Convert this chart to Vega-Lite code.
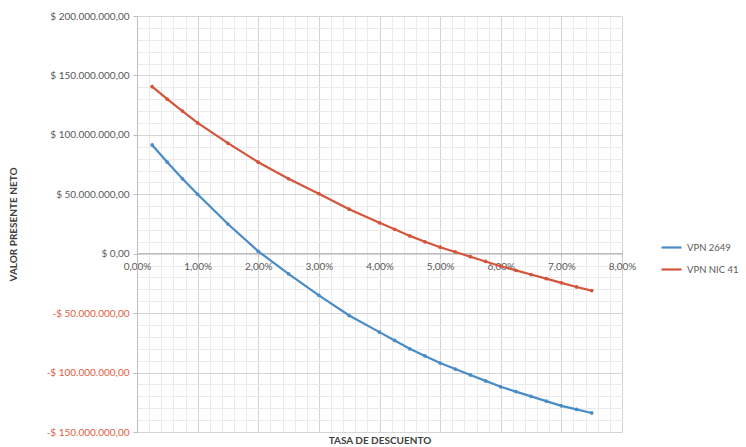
{
  "$schema": "https://vega.github.io/schema/vega-lite/v6.json",
  "width": 485,
  "height": 416,
  "autosize": {"type": "none"},
  "padding": {"left": 137, "top": 16, "right": 124, "bottom": 15},
  "background": "white",
  "config": {
    "locale": {"number": {"decimal": ",", "thousands": ".", "grouping": [3], "currency": ["$ ", ""], "minus": "-"}},
    "font": "Lato",
    "view": {"stroke": null},
    "axis": {"labelFont": "Lato", "titleFont": "Lato"}
  },
  "data": {
    "values": [
      {"tasa": 0.0025, "serie": "VPN 2649", "vpn": 91500000},
      {"tasa": 0.005, "serie": "VPN 2649", "vpn": 77000000},
      {"tasa": 0.0075, "serie": "VPN 2649", "vpn": 63000000},
      {"tasa": 0.01, "serie": "VPN 2649", "vpn": 50000000},
      {"tasa": 0.015, "serie": "VPN 2649", "vpn": 25000000},
      {"tasa": 0.02, "serie": "VPN 2649", "vpn": 2000000},
      {"tasa": 0.025, "serie": "VPN 2649", "vpn": -17000000},
      {"tasa": 0.03, "serie": "VPN 2649", "vpn": -35000000},
      {"tasa": 0.035, "serie": "VPN 2649", "vpn": -52000000},
      {"tasa": 0.04, "serie": "VPN 2649", "vpn": -66000000},
      {"tasa": 0.0425, "serie": "VPN 2649", "vpn": -73000000},
      {"tasa": 0.045, "serie": "VPN 2649", "vpn": -80000000},
      {"tasa": 0.0475, "serie": "VPN 2649", "vpn": -86000000},
      {"tasa": 0.05, "serie": "VPN 2649", "vpn": -92000000},
      {"tasa": 0.0525, "serie": "VPN 2649", "vpn": -97000000},
      {"tasa": 0.055, "serie": "VPN 2649", "vpn": -102000000},
      {"tasa": 0.0575, "serie": "VPN 2649", "vpn": -107000000},
      {"tasa": 0.06, "serie": "VPN 2649", "vpn": -112000000},
      {"tasa": 0.0625, "serie": "VPN 2649", "vpn": -116000000},
      {"tasa": 0.065, "serie": "VPN 2649", "vpn": -120000000},
      {"tasa": 0.0675, "serie": "VPN 2649", "vpn": -124000000},
      {"tasa": 0.07, "serie": "VPN 2649", "vpn": -128000000},
      {"tasa": 0.0725, "serie": "VPN 2649", "vpn": -131000000},
      {"tasa": 0.075, "serie": "VPN 2649", "vpn": -134000000},
      {"tasa": 0.0025, "serie": "VPN NIC 41", "vpn": 140500000},
      {"tasa": 0.005, "serie": "VPN NIC 41", "vpn": 130000000},
      {"tasa": 0.0075, "serie": "VPN NIC 41", "vpn": 120000000},
      {"tasa": 0.01, "serie": "VPN NIC 41", "vpn": 110000000},
      {"tasa": 0.015, "serie": "VPN NIC 41", "vpn": 93000000},
      {"tasa": 0.02, "serie": "VPN NIC 41", "vpn": 77000000},
      {"tasa": 0.025, "serie": "VPN NIC 41", "vpn": 63000000},
      {"tasa": 0.03, "serie": "VPN NIC 41", "vpn": 50500000},
      {"tasa": 0.035, "serie": "VPN NIC 41", "vpn": 37500000},
      {"tasa": 0.04, "serie": "VPN NIC 41", "vpn": 26000000},
      {"tasa": 0.0425, "serie": "VPN NIC 41", "vpn": 20500000},
      {"tasa": 0.045, "serie": "VPN NIC 41", "vpn": 15000000},
      {"tasa": 0.0475, "serie": "VPN NIC 41", "vpn": 10000000},
      {"tasa": 0.05, "serie": "VPN NIC 41", "vpn": 5500000},
      {"tasa": 0.0525, "serie": "VPN NIC 41", "vpn": 1500000},
      {"tasa": 0.055, "serie": "VPN NIC 41", "vpn": -2500000},
      {"tasa": 0.0575, "serie": "VPN NIC 41", "vpn": -6500000},
      {"tasa": 0.06, "serie": "VPN NIC 41", "vpn": -10500000},
      {"tasa": 0.0625, "serie": "VPN NIC 41", "vpn": -14000000},
      {"tasa": 0.065, "serie": "VPN NIC 41", "vpn": -17500000},
      {"tasa": 0.0675, "serie": "VPN NIC 41", "vpn": -21000000},
      {"tasa": 0.07, "serie": "VPN NIC 41", "vpn": -24500000},
      {"tasa": 0.0725, "serie": "VPN NIC 41", "vpn": -28000000},
      {"tasa": 0.075, "serie": "VPN NIC 41", "vpn": -31000000}
    ]
  },
  "resolve": {"axis": {"x": "independent", "y": "independent"}},
  "layer": [
    {
      "mark": {"type": "point", "opacity": 0},
      "encoding": {
        "x": {
          "field": "tasa", "type": "quantitative",
          "scale": {"domain": [0, 0.08], "nice": false, "zero": false},
          "axis": {
            "orient": "top", "title": null, "labels": false, "ticks": false, "domain": false,
            "grid": true, "gridColor": "#ebebeb", "gridWidth": 1,
            "values": [0.002,0.004,0.006,0.008,0.012,0.014,0.016,0.018,0.022,0.024,0.026,0.028,0.032,0.034,0.036,0.038,0.042,0.044,0.046,0.048,0.052,0.054,0.056,0.058,0.062,0.064,0.066,0.068,0.072,0.074,0.076,0.078]
          }
        },
        "y": {
          "field": "vpn", "type": "quantitative",
          "scale": {"domain": [-150000000, 200000000], "nice": false, "zero": false},
          "axis": {
            "orient": "right", "title": null, "labels": false, "ticks": false, "domain": false,
            "grid": true, "gridColor": "#ebebeb", "gridWidth": 1,
            "values": [-140000000,-130000000,-120000000,-110000000,-90000000,-80000000,-70000000,-60000000,-40000000,-30000000,-20000000,-10000000,10000000,20000000,30000000,40000000,60000000,70000000,80000000,90000000,110000000,120000000,130000000,140000000,160000000,170000000,180000000,190000000]
          }
        }
      }
    },
    {
      "mark": {"type": "line", "strokeWidth": 2.2, "point": {"filled": true, "size": 14}},
      "encoding": {
        "x": {
          "field": "tasa", "type": "quantitative",
          "scale": {"domain": [0, 0.08], "nice": false, "zero": false},
          "axis": {
            "orient": "bottom", "offset": -179, "format": ".2%",
            "values": [0, 0.01, 0.02, 0.03, 0.04, 0.05, 0.06, 0.07, 0.08],
            "grid": true, "gridColor": "#d4d4d4", "gridWidth": 1,
            "domain": true, "domainColor": "#bdbdbd", "ticks": true, "tickColor": "#bdbdbd", "tickSize": 4,
            "labelColor": "#595959", "labelFontSize": 10, "labelPadding": 4, "labelFlush": false,
            "title": "TASA DE DESCUENTO", "titleFontSize": 10, "titleFontWeight": "bold", "titleColor": "#404040",
            "titleY": 187, "titleBaseline": "middle"
          }
        },
        "y": {
          "field": "vpn", "type": "quantitative",
          "scale": {"domain": [-150000000, 200000000], "nice": false, "zero": false},
          "axis": {
            "orient": "left", "format": "$,.2f",
            "values": [-150000000, -100000000, -50000000, 0, 50000000, 100000000, 150000000, 200000000],
            "grid": true, "gridColor": "#d4d4d4", "gridWidth": 1,
            "domain": true, "domainColor": "#bdbdbd", "ticks": true, "tickColor": "#bdbdbd", "tickSize": 4,
            "labelColor": {"condition": {"test": "datum.value < 0", "value": "#e0603f"}, "value": "#595959"},
            "labelFontSize": 10, "labelPadding": 4, "labelFlush": false,
            "title": "VALOR PRESENTE NETO", "titleFontSize": 10, "titleFontWeight": "bold", "titleColor": "#404040",
            "titleX": -124, "titleY": 208, "titleBaseline": "middle", "titleAngle": -90
          }
        },
        "color": {
          "field": "serie", "type": "nominal",
          "scale": {"domain": ["VPN 2649", "VPN NIC 41"], "range": ["#4a8cc6", "#d3553c"]},
          "legend": {
            "title": null, "orient": "none", "legendX": 523, "legendY": 220,
            "symbolType": "stroke", "symbolSize": 400, "symbolStrokeWidth": 2.2,
            "labelFontSize": 9.5, "labelColor": "#595959", "rowPadding": 6, "padding": 0
          }
        }
      }
    }
  ]
}
